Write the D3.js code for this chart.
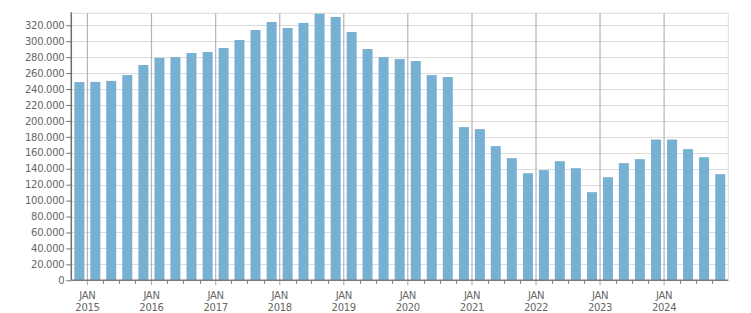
<!DOCTYPE html>
<html><head><meta charset="utf-8">
<script src="https://cdn.jsdelivr.net/npm/d3@7"></script>
<style>
html,body{margin:0;padding:0;background:#fff;}
svg text{font-family:"DejaVu Sans",Verdana,sans-serif;font-size:10px;fill:#666;letter-spacing:-0.3px;}
</style></head>
<body><svg id="c" width="751" height="313"></svg>
<script>
// Quarter start dates (Q4 2014 .. Q4 2024)
const quarters = [
 "2014-10","2015-01","2015-04","2015-07","2015-10","2016-01","2016-04","2016-07","2016-10",
 "2017-01","2017-04","2017-07","2017-10","2018-01","2018-04","2018-07","2018-10",
 "2019-01","2019-04","2019-07","2019-10","2020-01","2020-04","2020-07","2020-10",
 "2021-01","2021-04","2021-07","2021-10","2022-01","2022-04","2022-07","2022-10",
 "2023-01","2023-04","2023-07","2023-10","2024-01","2024-04","2024-07","2024-10"
];
const values = [
 248700,248900,250200,257500,270100,279000,280100,285200,286400,
 291400,301500,314100,324100,316600,322900,334600,330400,
 311600,290200,280100,277600,275100,257500,255000,192200,
 189700,168300,153300,134400,138200,149500,140700,110600,
 129400,147000,152000,176600,176600,164600,154500,133200
];
const yTicks = [0,20000,40000,60000,80000,100000,120000,140000,160000,180000,200000,220000,240000,260000,280000,300000,320000];
const yMax = 335000;
const yearTicks = ["2015","2016","2017","2018","2019","2020","2021","2022","2023","2024"];
const monthLabel = "JAN";

const parse = d3.timeParse("%Y-%m");
const svg = d3.select("#c");
const L = 71.3, R = 728.3, T = 13.3, B = 280.3;

const x = d3.scaleTime().domain([parse("2014-10"), parse("2025-01")]).range([L, R]);
const y = d3.scaleLinear().domain([0, yMax]).range([B, T]);

const loc = d3.formatLocale({decimal:",", thousands:".", grouping:[3], currency:["",""]});
const fmt = loc.format(",d");

// horizontal gridlines
svg.append("g").selectAll("line").data(yTicks.filter(v=>v>0)).join("line")
  .attr("x1", L).attr("x2", R).attr("y1", d=>Math.round(y(d))+0.5).attr("y2", d=>Math.round(y(d))+0.5)
  .attr("stroke", "#dcdcdc").attr("stroke-width", 1);
// frame top and right
svg.append("line").attr("x1", L).attr("x2", R).attr("y1", T).attr("y2", T).attr("stroke", "#dcdcdc");
svg.append("line").attr("x1", R).attr("x2", R).attr("y1", T).attr("y2", B).attr("stroke", "#dcdcdc");

// year gridlines
const years = yearTicks.map(s => parse(s + "-01"));
svg.append("g").selectAll("line").data(years).join("line")
  .attr("x1", d=>x(d)).attr("x2", d=>x(d)).attr("y1", T).attr("y2", B + 5)
  .attr("stroke", "#b4b4b4").attr("stroke-width", 1.2);

// bars
const bw = 10;
svg.append("g").selectAll("rect").data(quarters.map((q,i)=>({d:parse(q), v:values[i]}))).join("rect")
  .attr("x", d => (x(d.d) + x(d3.timeMonth.offset(d.d, 3))) / 2 - bw/2)
  .attr("width", bw)
  .attr("y", d => y(d.v))
  .attr("height", d => B - y(d.v))
  .attr("fill", "#78b0d3");

// y axis
const ya = svg.append("g").attr("transform", `translate(${L},0)`)
  .call(d3.axisLeft(y).tickValues(yTicks).tickFormat(fmt).tickSize(5).tickPadding(2));
ya.select(".domain").attr("stroke", "#6e6e6e").attr("stroke-width", 1.5).attr("d", `M0,${T-1}V${B}`);
ya.selectAll(".tick line").attr("stroke", "#6e6e6e");
ya.selectAll("text").attr("fill", "#666").style("font-size","10px");

// x axis: baseline + minor quarter ticks
svg.append("line").attr("x1", L).attr("x2", R).attr("y1", B).attr("y2", B).attr("stroke", "#7a7a7a").attr("stroke-width", 1.5);
const minor = d3.timeMonth.every(3).range(parse("2015-01"), parse("2025-01")).filter(d => d.getMonth() !== 0);
svg.append("g").selectAll("line").data(minor).join("line")
  .attr("x1", d=>Math.round(x(d))+0.5).attr("x2", d=>Math.round(x(d))+0.5).attr("y1", B).attr("y2", B + 3.5)
  .attr("stroke", "#7a7a7a");

const xl = svg.append("g").selectAll("g").data(yearTicks).join("g")
  .attr("transform", d => `translate(${x(parse(d + "-01"))},0)`);
xl.append("text").attr("y", 298.5).attr("text-anchor", "middle").text(monthLabel);
xl.append("text").attr("y", 310.5).attr("text-anchor", "middle").text(d => d);
</script></body></html>
